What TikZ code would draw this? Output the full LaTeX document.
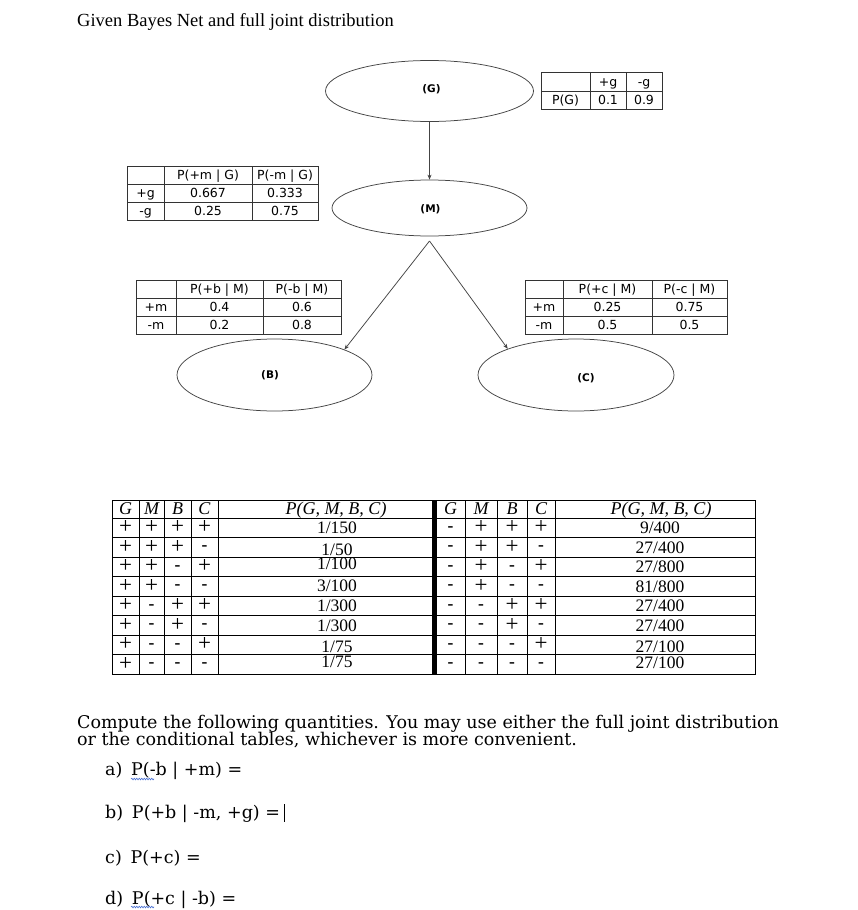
\documentclass[tikz,border=0pt]{standalone}
\usepackage{fontspec}
\setmainfont{Liberation Serif}
\newfontfamily\cptfont{DejaVu Sans}
\newfontfamily\qfont{DejaVu Serif}
\usetikzlibrary{shapes.geometric,arrows.meta,decorations.pathmorphing}
\definecolor{lineg}{HTML}{444444}
\definecolor{squig}{RGB}{70,110,210}
\begin{document}
\begin{tikzpicture}[x=1pt,y=-1pt,
  ell/.style={ellipse,draw=lineg,line width=0.75pt,inner sep=0pt},
  elab/.style={font=\cptfont\bfseries\fontsize{10.5}{12}\selectfont,inner sep=0pt,text height=7.6pt,text depth=0pt},
  arr/.style={draw=lineg,line width=0.75pt,-{Stealth[length=5pt,width=4pt]}},
  gridl/.style={draw=black!80,line width=0.8pt},
  cpt/.style={font=\cptfont\fontsize{12.5}{14}\selectfont,text=black,inner sep=0pt,text height=9.1pt,text depth=0pt},
  jnum/.style={font=\fontsize{17.5}{18}\selectfont,inner sep=0pt,text height=11.8pt,text depth=0pt},
  jhead/.style={font=\itshape\fontsize{18}{19}\selectfont,inner sep=0pt,text height=11.8pt,text depth=0pt},
  pl/.style={font=\fontsize{23}{23}\selectfont,inner sep=0pt,text height=11.6pt,text depth=0pt,node contents={+}},
  mi/.style={font=\bfseries\fontsize{17.5}{18}\selectfont,inner sep=0pt,text height=7.4pt,text depth=0pt,node contents={-}},
  jgrid/.style={draw=black,line width=0.8pt},
  qtext/.style={font=\qfont\fontsize{17.5}{19}\selectfont,anchor=base west,inner sep=0pt},
]
\useasboundingbox (0,0) rectangle (857,910);
\fill[white] (0,0) rectangle (857,910);

% title
\node[anchor=base west,font=\fontsize{18.5}{20}\selectfont,inner sep=0pt] (title) at (77,27) {Given Bayes Net and full joint distribution};

% Bayes net nodes
\node[ell,minimum width=208pt,minimum height=61pt] (G) at (429.5,91) {};
\node[ell,minimum width=195pt,minimum height=56pt] (M) at (429.5,208) {};
\node[ell,minimum width=195pt,minimum height=72pt] (B) at (274.5,375) {};
\node[ell,minimum width=196pt,minimum height=72pt] (C) at (576,375) {};
\node[elab] (Gl) at (431.5,88.5) {(G)};
\node[elab] (Ml) at (430.5,208.5) {(M)};
\node[elab] (Bl) at (270,375) {(B)};
\node[elab] (Cl) at (586,378) {(C)};
\coordinate (apex) at (429.5,241);
\draw[arr] (G) -- (M);
\draw[arr] (apex) -- (B.20);
\draw[arr] (apex) -- (C.159);

% P(G) table
\draw[gridl] (541.5,72) rectangle (662.5,109);
\draw[gridl] (541.5,91) -- (662.5,91) (590,72) -- (590,109) (626,72) -- (626,109);
\node[cpt] (g1) at (608,81.5) {+g};
\node[cpt] (g2) at (644,81.5) {-g};
\node[cpt] (g3) at (565.5,100) {P(G)};
\node[cpt] (g4) at (608,100) {0.1};
\node[cpt] (g5) at (644,100) {0.9};

% P(M|G) table
\draw[gridl] (127.5,166) rectangle (318,220);
\draw[gridl] (127.5,184) -- (318,184) (127.5,202) -- (318,202) (164,166) -- (164,220) (252,166) -- (252,220);
\node[cpt] (m1) at (208,175) {P(+m | G)};
\node[cpt] (m2) at (285,175) {P(-m | G)};
\node[cpt] (m3) at (145.5,193) {+g};
\node[cpt] (m4) at (208,193) {0.667};
\node[cpt] (m5) at (285,193) {0.333};
\node[cpt] (m6) at (145.5,211) {-g};
\node[cpt] (m7) at (208,211) {0.25};
\node[cpt] (m8) at (285,211) {0.75};

% P(B|M) table
\draw[gridl] (136,280) rectangle (341,334);
\draw[gridl] (136,298) -- (341,298) (136,316) -- (341,316) (176,280) -- (176,334) (263,280) -- (263,334);
\node[cpt] (b1) at (219.5,289) {P(+b | M)};
\node[cpt] (b2) at (302,289) {P(-b | M)};
\node[cpt] (b3) at (156,307) {+m};
\node[cpt] (b4) at (219.5,307) {0.4};
\node[cpt] (b5) at (302,307) {0.6};
\node[cpt] (b6) at (156,325) {-m};
\node[cpt] (b7) at (219.5,325) {0.2};
\node[cpt] (b8) at (302,325) {0.8};

% P(C|M) table
\draw[gridl] (525,280) rectangle (727,334);
\draw[gridl] (525,298) -- (727,298) (525,316) -- (727,316) (563,280) -- (563,334) (652,280) -- (652,334);
\node[cpt] (c1) at (607.5,289) {P(+c | M)};
\node[cpt] (c2) at (689.5,289) {P(-c | M)};
\node[cpt] (c3) at (544,307) {+m};
\node[cpt] (c4) at (607.5,307) {0.25};
\node[cpt] (c5) at (689.5,307) {0.75};
\node[cpt] (c6) at (544,325) {-m};
\node[cpt] (c7) at (607.5,325) {0.5};
\node[cpt] (c8) at (689.5,325) {0.5};

% joint table grid
\draw[jgrid] (112,500) rectangle (755,674);
\foreach \k in {0,...,7} {
  \draw[jgrid] (112,518+19.5*\k) -- (755,518+19.5*\k);
}
\foreach \xx in {139,164.5,191,218,465,497,527,555} {
  \draw[jgrid] (\xx,500) -- (\xx,674);
}
\fill[black] (432,500) rectangle (436.5,674);

% headers
\node[jhead] (hlg) at (125.5,509) {G};
\node[jhead] (hlm) at (151.5,509) {M};
\node[jhead] (hlb) at (177.5,509) {B};
\node[jhead] (hlc) at (204.5,509) {C};
\node[jhead] (hlp) at (336,509) {P(G, M, B, C)};
\node[jhead] (hrg) at (450.5,509) {G};
\node[jhead] (hrm) at (481,509) {M};
\node[jhead] (hrb) at (512,509) {B};
\node[jhead] (hrc) at (541,509) {C};
\node[jhead] (hrp) at (661,509) {P(G, M, B, C)};

% rows
\foreach \ms/\bs/\cs/\lp/\ldy/\rp/\rdy [count=\i] in {
  pl/pl/pl/1\slash 150/0/9\slash 400/0,
  pl/pl/mi/1\slash 50/2/27\slash 400/0,
  pl/mi/pl/1\slash 100/-3/27\slash 800/0,
  pl/mi/mi/3\slash 100/-1/81\slash 800/0,
  mi/pl/pl/1\slash 300/0/27\slash 400/0,
  mi/pl/mi/1\slash 300/0/27\slash 400/0,
  mi/mi/pl/1\slash 75/2/27\slash 100/2,
  mi/mi/mi/1\slash 75/-3/27\slash 100/-2} {
  \pgfmathsetmacro{\yy}{518+19.5*(\i-0.5)}
  \node (lg\i) at (125.5,\yy) [pl];
  \node (lm\i) at (151.5,\yy) [\ms];
  \node (lb\i) at (177.5,\yy) [\bs];
  \node (lc\i) at (204.5,\yy) [\cs];
  \node[jnum] (lp\i) at (337,\yy+\ldy) {\lp};
  \node (rg\i) at (450.5,\yy) [mi];
  \node (rm\i) at (481,\yy) [\ms];
  \node (rb\i) at (512,\yy) [\bs];
  \node (rc\i) at (541,\yy) [\cs];
  \node[jnum] (rp\i) at (660,\yy+\rdy) {\rp};
}

% questions
\node[qtext] (q1) at (77,728) {Compute the following quantities. You may use either the full joint distribution};
\node[qtext] (q2) at (77,745) {or the conditional tables, whichever is more convenient.};
\node[qtext] (qa) at (105,775) {a)\hspace{0.5em}P(-b | +m) =};
\node[qtext] (qb) at (105,818) {b)\hspace{0.5em}P(+b | -m, +g) =};
\node[qtext] (qc) at (105,863) {c)\hspace{0.5em}P(+c) =};
\node[qtext] (qd) at (105,904) {d)\hspace{0.5em}P(+c | -b) =};
\draw[squig,line width=0.6pt,decorate,decoration={snake,amplitude=0.8pt,segment length=2.5pt}] (131,779) -- (154,779);
\draw[squig,line width=0.6pt,decorate,decoration={snake,amplitude=0.8pt,segment length=2.5pt}] (131,907) -- (154,907);
\draw[line width=0.6pt] (qb.base east) ++(4,-14) -- ++(0,18);
\end{tikzpicture}
\end{document}
